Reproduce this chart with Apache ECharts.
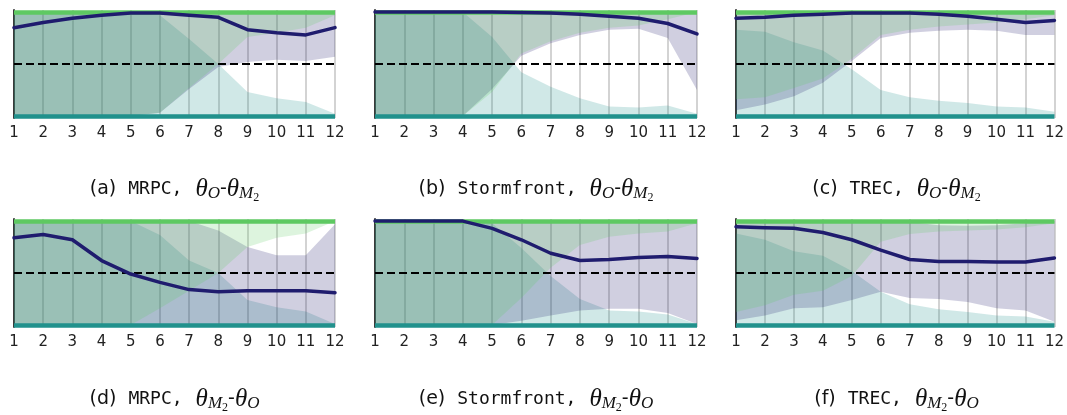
<!DOCTYPE html>
<html>
<head>
<meta charset="utf-8">
<script src="https://cdn.jsdelivr.net/npm/echarts@6/dist/echarts.min.js"></script>
<style>
  html, body { margin: 0; padding: 0; background: #ffffff; }
  #chart { width: 1067px; height: 415px; }
</style>
</head>
<body>
<div id="chart"></div>
<script>
// Layer index on the x axis
const layers = ['1', '2', '3', '4', '5', '6', '7', '8', '9', '10', '11', '12'];

// (a) MRPC, theta_O - theta_M2
const navyA      = [0.85, 0.90, 0.94, 0.97, 0.99, 0.99, 0.97, 0.95, 0.83, 0.80, 0.78, 0.85];
const tealHiA    = [1, 1, 1, 1, 1, 0.97, 0.74, 0.50, 0.23, 0.17, 0.135, 0.02];
const purpleLoA  = [0, 0, 0, 0, 0, 0.03, 0.26, 0.47, 0.52, 0.54, 0.53, 0.57];
const purpleHiA  = [1, 1, 1, 1, 1, 1, 1, 1, 1, 1, 1, 1];
const greenLoA   = [0, 0, 0, 0, 0, 0.03, 0.27, 0.50, 0.76, 0.80, 0.85, 0.97];

// (b) Stormfront, theta_O - theta_M2
const navyB      = [1.0, 1.0, 1.0, 1.0, 1.0, 0.995, 0.99, 0.98, 0.96, 0.94, 0.89, 0.79];
const tealHiB    = [1, 1, 1, 1, 0.76, 0.42, 0.28, 0.17, 0.09, 0.08, 0.10, 0.02];
const purpleLoB  = [0, 0, 0, 0, 0.26, 0.58, 0.70, 0.78, 0.83, 0.84, 0.75, 0.25];
const purpleHiB  = [1, 1, 1, 1, 1, 1, 1, 1, 1, 1, 1, 1];
const greenLoB   = [0, 0, 0, 0, 0.23, 0.60, 0.72, 0.80, 0.85, 0.87, 0.93, 0.99];

// (c) TREC, theta_O - theta_M2
const navyC      = [0.94, 0.95, 0.97, 0.98, 0.99, 0.99, 0.99, 0.98, 0.96, 0.93, 0.90, 0.92];
const tealHiC    = [0.83, 0.81, 0.71, 0.63, 0.45, 0.25, 0.18, 0.145, 0.125, 0.09, 0.08, 0.04];
const purpleLoC  = [0.055, 0.11, 0.19, 0.32, 0.53, 0.75, 0.80, 0.82, 0.83, 0.82, 0.78, 0.78];
const purpleHiC  = [1, 1, 1, 1, 1, 1, 1, 1, 1, 1, 1, 1];
const greenLoC   = [0.16, 0.18, 0.27, 0.36, 0.55, 0.78, 0.83, 0.86, 0.88, 0.90, 0.93, 0.97];

// (d) MRPC, theta_M2 - theta_O
const navyD      = [0.84, 0.87, 0.82, 0.62, 0.49, 0.41, 0.34, 0.32, 0.33, 0.33, 0.33, 0.31];
const tealHiD    = [1, 1, 1, 1, 1, 0.865, 0.62, 0.50, 0.24, 0.17, 0.13, 0.01];
const purpleLoD  = [0, 0, 0, 0, 0, 0, 0, 0, 0, 0, 0, 0];
const purpleHiD  = [1, 1, 1, 1, 1, 1, 1, 0.91, 0.75, 0.67, 0.67, 0.97];
const greenLoD   = [0, 0, 0, 0, 0, 0.16, 0.33, 0.50, 0.75, 0.84, 0.88, 0.99];

// (e) Stormfront, theta_M2 - theta_O
const navyE      = [1.0, 1.0, 1.0, 1.0, 0.93, 0.82, 0.69, 0.62, 0.63, 0.65, 0.66, 0.64];
const tealHiE    = [1, 1, 1, 1, 0.98, 0.74, 0.47, 0.25, 0.14, 0.13, 0.10, 0.01];
const purpleLoE  = [0, 0, 0, 0, 0, 0.04, 0.09, 0.14, 0.155, 0.155, 0.115, 0.01];
const purpleHiE  = [1, 1, 1, 1, 1, 1, 1, 1, 1, 1, 1, 1];
const greenLoE   = [0, 0, 0, 0, 0, 0.26, 0.55, 0.77, 0.85, 0.88, 0.90, 0.98];

// (f) TREC, theta_M2 - theta_O
const navyF      = [0.945, 0.935, 0.93, 0.89, 0.82, 0.72, 0.63, 0.61, 0.61, 0.605, 0.605, 0.645];
const tealHiF    = [0.88, 0.82, 0.71, 0.665, 0.52, 0.32, 0.20, 0.15, 0.125, 0.09, 0.08, 0.03];
const purpleLoF  = [0.045, 0.09, 0.16, 0.17, 0.24, 0.32, 0.26, 0.25, 0.22, 0.16, 0.14, 0.03];
const purpleHiF  = [1, 1, 1, 1, 1, 1, 0.99, 0.96, 0.955, 0.96, 0.98, 1];
const greenLoF   = [0.125, 0.19, 0.29, 0.33, 0.47, 0.80, 0.875, 0.90, 0.91, 0.92, 0.94, 0.98];

// Captions
const panelTags  = ['(a)', '(b)', '(c)', '(d)', '(e)', '(f)'];
const datasets   = ['MRPC,', 'Stormfront,', 'TREC,', 'MRPC,', 'Stormfront,', 'TREC,'];

const panels = [
  { navy: navyA, tealHi: tealHiA, pLo: purpleLoA, pHi: purpleHiA, gLo: greenLoA },
  { navy: navyB, tealHi: tealHiB, pLo: purpleLoB, pHi: purpleHiB, gLo: greenLoB },
  { navy: navyC, tealHi: tealHiC, pLo: purpleLoC, pHi: purpleHiC, gLo: greenLoC },
  { navy: navyD, tealHi: tealHiD, pLo: purpleLoD, pHi: purpleHiD, gLo: greenLoD },
  { navy: navyE, tealHi: tealHiE, pLo: purpleLoE, pHi: purpleHiE, gLo: greenLoE },
  { navy: navyF, tealHi: tealHiF, pLo: purpleLoF, pHi: purpleHiF, gLo: greenLoF }
];

const TEAL = '#21918c';
const GREEN = '#5ec962';
const NAVY = '#1f1c6e';
const BAND_ALPHA = 0.21;

const colLeft = [14, 375, 736];
const colWidth = [321, 322, 321];
const rowTop = [10, 219];
const plotH = 108;
const captionY = [189, 399];

const grids = [], xAxes = [], yAxes = [], series = [], graphics = [];

function hidden(extra) {
  return Object.assign({
    type: 'line', symbol: 'none', silent: true,
    lineStyle: { width: 0, opacity: 0 }
  }, extra);
}

panels.forEach((p, i) => {
  const col = i % 3, row = Math.floor(i / 3);
  grids.push({ left: colLeft[col], top: rowTop[row], width: colWidth[col], height: plotH });
  xAxes.push({
    type: 'category', gridIndex: i, data: layers, boundaryGap: false,
    axisLine: { show: false }, axisTick: { show: false },
    axisLabel: { show: true, margin: 8, fontFamily: 'DejaVu Sans', fontSize: 15, color: '#222' },
    splitLine: { show: true, lineStyle: { color: '#c4c4c4', width: 1.5 } }
  });
  yAxes.push({
    type: 'value', gridIndex: i, min: -0.02, max: 1.02,
    axisLine: { show: true, lineStyle: { color: '#3a3a3a', width: 2 } },
    axisTick: { show: false }, axisLabel: { show: false }, splitLine: { show: false }
  });

  // teal band: from 0 up to tealHi
  series.push(hidden({
    xAxisIndex: i, yAxisIndex: i, data: p.tealHi,
    areaStyle: { color: TEAL, opacity: BAND_ALPHA, origin: 0 }
  }));

  // purple band: pLo .. pHi
  const ps = 'purple' + i;
  series.push(hidden({ xAxisIndex: i, yAxisIndex: i, stack: ps, data: p.pLo }));
  series.push(hidden({
    xAxisIndex: i, yAxisIndex: i, stack: ps,
    data: p.pHi.map((v, k) => +(v - p.pLo[k]).toFixed(4)),
    areaStyle: { color: NAVY, opacity: BAND_ALPHA }
  }));

  // green band: gLo .. 1
  const gs = 'green' + i;
  series.push(hidden({ xAxisIndex: i, yAxisIndex: i, stack: gs, data: p.gLo }));
  series.push(hidden({
    xAxisIndex: i, yAxisIndex: i, stack: gs,
    data: p.gLo.map(v => +(1 - v).toFixed(4)),
    areaStyle: { color: GREEN, opacity: BAND_ALPHA }
  }));

  // reference lines: bottom, chance level, top
  series.push({
    type: 'line', xAxisIndex: i, yAxisIndex: i, data: [], silent: true,
    markLine: {
      silent: true, symbol: 'none', label: { show: false },
      animation: false,
      data: [
        { yAxis: 0, lineStyle: { color: TEAL, width: 4.5, type: 'solid' } },
        { yAxis: 1, lineStyle: { color: GREEN, width: 4.5, type: 'solid' } },
        { yAxis: 0.5, lineStyle: { color: '#000000', width: 2, type: [8, 4] } }
      ]
    }
  });

  // navy curve
  series.push({
    type: 'line', xAxisIndex: i, yAxisIndex: i, data: p.navy,
    symbol: 'none', silent: true, z: 5,
    lineStyle: { color: NAVY, width: 3.5, join: 'round', cap: 'round' }
  });

  const topRow = row === 0;
  const math = topRow
    ? '{th|θ}{sb|O}{p|-}{th|θ}{sb|M}{sbb|2}'
    : '{th|θ}{sb|M}{sbb|2}{p|-}{th|θ}{sb|O}';
  graphics.push({
    type: 'text',
    x: colLeft[col] + colWidth[col] / 2,
    y: captionY[row],
    silent: true,
    style: {
      text: '{tag|' + panelTags[i] + '}{tt|' + datasets[i] + '}' + math,
      align: 'center',
      verticalAlign: 'middle',
      fill: '#111',
      rich: {
        tag: { fontFamily: 'DejaVu Sans', fontSize: 19, fill: '#111', padding: [0, 12, 0, 0] },
        p:   { fontFamily: 'DejaVu Sans', fontSize: 19, fill: '#111' },
        tt:  { fontFamily: 'DejaVu Sans Mono', fontSize: 18, fill: '#111', padding: [0, 13, 0, 0] },
        th:  { fontFamily: 'Liberation Serif', fontStyle: 'italic', fontSize: 25, fill: '#111' },
        sb:  { fontFamily: 'Liberation Serif', fontStyle: 'italic', fontSize: 17, fill: '#111', padding: [10, 0, 0, 0] },
        sbb: { fontFamily: 'Liberation Serif', fontSize: 12, fill: '#111', padding: [18, 0, 0, 0] }
      }
    }
  });
});

const chart = echarts.init(document.getElementById('chart'), null, { renderer: 'canvas' });
chart.setOption({
  animation: false,
  backgroundColor: '#ffffff',
  grid: grids,
  xAxis: xAxes,
  yAxis: yAxes,
  series: series,
  graphic: graphics
});
</script>
</body>
</html>
